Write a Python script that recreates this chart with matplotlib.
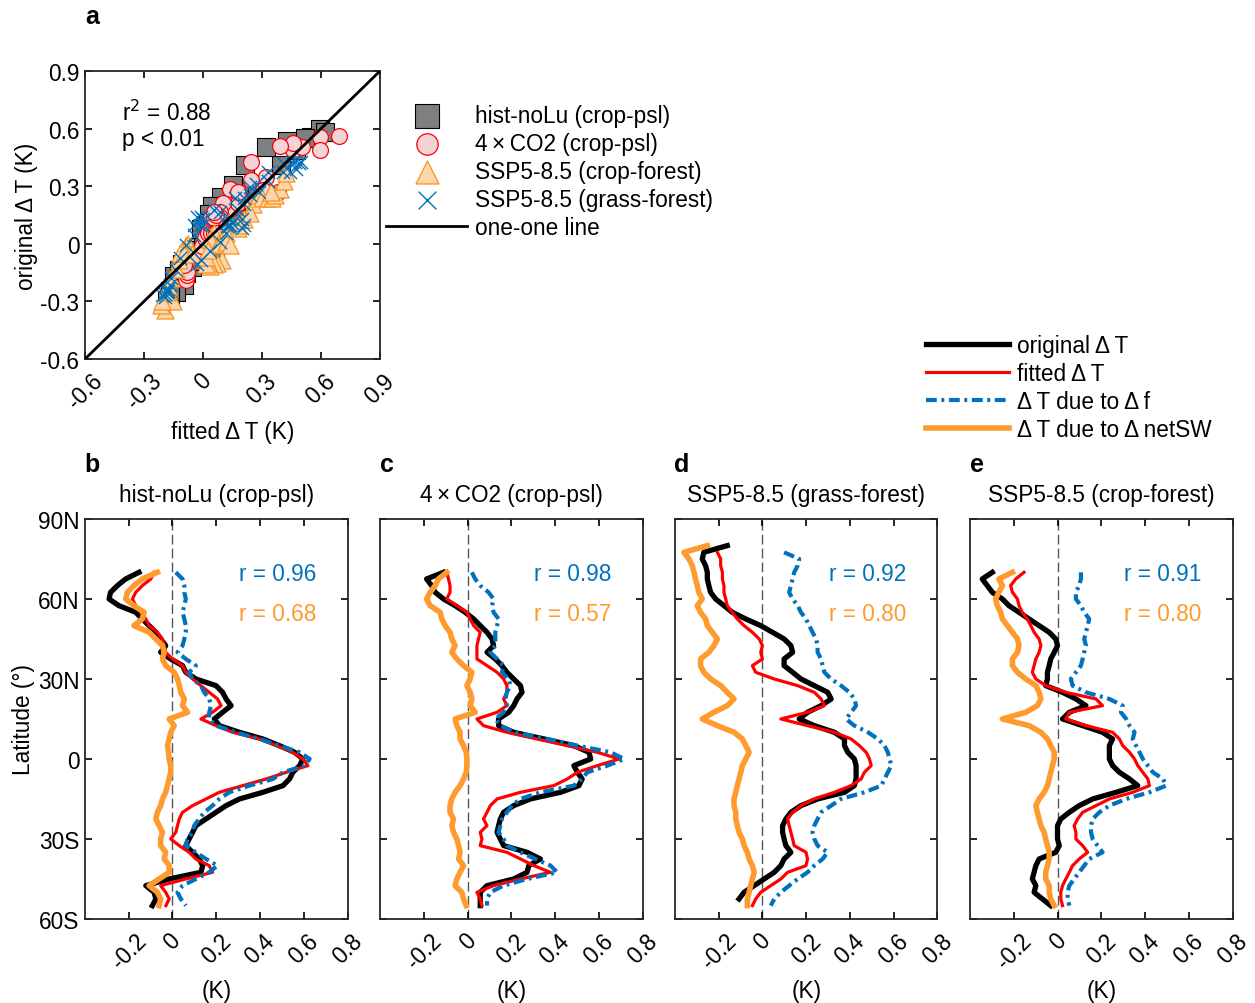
import numpy as np
import matplotlib
matplotlib.use("Agg")
import matplotlib.pyplot as plt

plt.rcParams['font.family'] = ['Liberation Sans', 'DejaVu Sans']
plt.rcParams['font.size'] = 16.3
plt.rcParams['axes.linewidth'] = 1.3
plt.rcParams['axes.edgecolor'] = '#262626'

nan = np.nan
# latitude grid (deg N), 80N -> 55S every 2.5 deg
lat = np.arange(80, -55.1, -2.5)

# ---- b: hist-noLu (crop-psl) ----
b_orig = [nan, nan, nan, nan,
          -0.153, -0.214, -0.252, -0.283, -0.290, -0.245, -0.168, -0.138, -0.107, -0.076,
          -0.054, -0.031, -0.054, -0.008, 0.046, 0.061, 0.107, 0.199, 0.229, 0.245,
          0.268, 0.229, 0.191, 0.214, 0.306, 0.413, 0.489, 0.558, 0.596, 0.581,
          0.550, 0.535, 0.505, 0.413, 0.306, 0.245, 0.199, 0.153, 0.107, 0.092,
          0.076, 0.061, 0.092, 0.122, 0.138, 0.130, -0.015, -0.122, -0.084, -0.076, -0.092]
b_fit = [nan, nan, nan, nan,
         -0.084, -0.099, -0.138, -0.168, -0.183, -0.168, -0.145, -0.122, -0.107, -0.069,
         -0.046, -0.038, -0.031, 0.000, 0.046, 0.061, 0.092, 0.130, 0.168, 0.206,
         0.222, 0.183, 0.130, 0.199, 0.275, 0.398, 0.474, 0.550, 0.596, 0.619,
         0.520, 0.428, 0.321, 0.214, 0.153, 0.092, 0.046, 0.031, 0.023, 0.015,
         -0.008, 0.031, 0.076, 0.107, 0.168, 0.183, 0.061, -0.054, -0.031, -0.015, -0.030]
b_df = [nan, nan, nan, nan,
        0.015, 0.046, 0.054, 0.054, 0.061, 0.054, 0.046, 0.054, 0.061, 0.061,
        0.054, 0.046, 0.023, 0.061, 0.107, 0.076, 0.092, 0.130, 0.145, 0.168,
        0.176, 0.168, 0.168, 0.199, 0.290, 0.398, 0.489, 0.581, 0.627, 0.604,
        0.505, 0.459, 0.352, 0.260, 0.214, 0.183, 0.145, 0.122, 0.099, 0.092,
        0.069, 0.061, 0.107, 0.153, 0.206, 0.168, 0.107, 0.046, 0.023, 0.038, 0.061]
b_sw = [nan, nan, nan, nan,
        -0.069, -0.138, -0.176, -0.206, -0.214, -0.176, -0.130, -0.138, -0.176, -0.107,
        -0.076, -0.046, -0.038, -0.046, -0.031, 0.008, 0.023, 0.031, 0.038, 0.054,
        0.046, 0.069, -0.015, 0.008, -0.008, -0.015, -0.023, -0.018, -0.015, -0.008,
        -0.008, -0.015, -0.023, -0.031, -0.046, -0.054, -0.069, -0.076, -0.061, -0.046,
        -0.054, -0.054, -0.031, -0.038, -0.015, -0.015, -0.061, -0.107, -0.069, -0.054, -0.061]

# ---- c: 4xCO2 (crop-psl) ----
c_orig = [nan, nan, nan, nan,
          -0.110, -0.187, -0.164, -0.148, -0.110, -0.057, -0.011, 0.028, 0.058, 0.089,
          0.112, 0.119, 0.089, 0.127, 0.157, 0.180, 0.211, 0.242, 0.249, 0.226,
          0.211, 0.188, 0.142, 0.142, 0.211, 0.349, 0.486, 0.555, 0.563, 0.486,
          0.502, 0.524, 0.509, 0.425, 0.287, 0.211, 0.165, 0.150, 0.142, 0.135,
          0.150, 0.165, 0.272, 0.333, 0.280, 0.272, 0.211, 0.089, 0.058, 0.058, 0.058]
c_fit = [nan, nan, nan, nan,
         -0.095, -0.087, -0.080, -0.080, -0.095, -0.049, -0.003, 0.012, 0.028, 0.058,
         0.050, 0.043, 0.043, 0.043, 0.089, 0.135, 0.165, 0.180, 0.180, 0.165,
         0.180, 0.135, 0.043, 0.073, 0.180, 0.318, 0.456, 0.593, 0.693, 0.593,
         0.502, 0.456, 0.394, 0.242, 0.135, 0.104, 0.089, 0.073, 0.089, 0.058,
         0.066, 0.058, 0.180, 0.242, 0.303, 0.379, 0.242, 0.119, 0.043, 0.058, 0.066]
c_df = [nan, nan, nan, nan,
        0.020, 0.035, 0.058, 0.096, 0.119, 0.112, 0.119, 0.142, 0.135, 0.127,
        0.127, 0.127, 0.104, 0.135, 0.165, 0.157, 0.188, 0.196, 0.180, 0.173,
        0.180, 0.165, 0.127, 0.150, 0.211, 0.364, 0.502, 0.654, 0.716, 0.639,
        0.547, 0.524, 0.486, 0.333, 0.242, 0.203, 0.180, 0.157, 0.150, 0.142,
        0.165, 0.180, 0.242, 0.310, 0.379, 0.410, 0.272, 0.165, 0.104, 0.089, 0.089]
c_sw = [nan, nan, nan, nan,
        -0.095, -0.133, -0.148, -0.171, -0.187, -0.171, -0.125, -0.118, -0.102, -0.080,
        -0.072, -0.057, -0.072, -0.049, -0.018, 0.020, 0.012, -0.003, 0.012, 0.020,
        0.012, 0.035, -0.057, -0.049, -0.034, -0.034, -0.018, -0.006, -0.003, -0.003,
        -0.006, -0.018, -0.034, -0.057, -0.072, -0.080, -0.080, -0.064, -0.072, -0.064,
        -0.049, -0.041, -0.034, -0.041, -0.018, -0.034, -0.049, -0.057, -0.026, -0.018, -0.006]

# ---- d: SSP5-8.5 (grass-forest) ----
d_orig = [-0.161, -0.268, -0.275, -0.260,
          -0.252, -0.252, -0.245, -0.237, -0.214, -0.176, -0.138, -0.076, -0.008, 0.046,
          0.099, 0.130, 0.138, 0.099, 0.099, 0.138, 0.176, 0.237, 0.298, 0.314,
          0.268, 0.206, 0.168, 0.237, 0.329, 0.375, 0.375, 0.390, 0.420, 0.428,
          0.428, 0.428, 0.420, 0.375, 0.252, 0.176, 0.130, 0.107, 0.092, 0.092,
          0.099, 0.107, 0.130, 0.099, 0.084, 0.054, 0.008, -0.038, -0.084, -0.107, nan]
d_fit = [nan, -0.206, -0.191, -0.191,
         -0.183, -0.183, -0.176, -0.176, -0.168, -0.161, -0.138, -0.115, -0.084, -0.046,
         -0.015, 0.000, -0.008, 0.000, -0.046, -0.031, 0.054, 0.161, 0.237, 0.268,
         0.283, 0.206, 0.084, 0.206, 0.329, 0.405, 0.443, 0.474, 0.489, 0.497,
         0.466, 0.451, 0.405, 0.329, 0.237, 0.176, 0.138, 0.115, 0.122, 0.130,
         0.138, 0.145, 0.199, 0.206, 0.199, 0.115, 0.084, 0.038, -0.008, -0.031, -0.046]
d_df = [nan, 0.099, 0.168, 0.161,
        0.145, 0.138, 0.130, 0.122, 0.138, 0.161, 0.176, 0.199, 0.214, 0.229,
        0.245, 0.252, 0.252, 0.268, 0.275, 0.283, 0.314, 0.359, 0.398, 0.420,
        0.428, 0.405, 0.382, 0.420, 0.482, 0.528, 0.558, 0.573, 0.581, 0.589,
        0.573, 0.558, 0.543, 0.466, 0.359, 0.314, 0.268, 0.252, 0.237, 0.229,
        0.237, 0.252, 0.298, 0.275, 0.237, 0.206, 0.161, 0.122, 0.084, 0.054, 0.038]
d_sw = [-0.252, -0.359, -0.336, -0.321,
        -0.313, -0.306, -0.298, -0.291, -0.275, -0.298, -0.283, -0.260, -0.252, -0.229,
        -0.206, -0.222, -0.245, -0.283, -0.283, -0.268, -0.237, -0.191, -0.161, -0.130,
        -0.161, -0.222, -0.275, -0.206, -0.130, -0.092, -0.076, -0.061, -0.076, -0.092,
        -0.099, -0.107, -0.115, -0.122, -0.130, -0.130, -0.122, -0.122, -0.115, -0.107,
        -0.092, -0.084, -0.069, -0.061, -0.046, -0.038, -0.046, -0.054, -0.061, -0.069, -0.069]

# ---- e: SSP5-8.5 (crop-forest) ----
e_orig = [nan, nan, nan, nan,
          -0.298, -0.344, -0.321, -0.298, -0.252, -0.222, -0.176, -0.130, -0.084, -0.038,
          -0.008, 0.000, -0.015, -0.031, -0.038, -0.046, -0.046, -0.054, 0.023, 0.084,
          0.130, 0.054, 0.023, 0.115, 0.206, 0.252, 0.237, 0.237, 0.237, 0.252,
          0.283, 0.329, 0.367, 0.268, 0.161, 0.099, 0.054, 0.015, 0.000, 0.000,
          0.000, 0.008, -0.008, -0.084, -0.099, -0.107, -0.115, -0.099, -0.107, -0.069, -0.031]
e_fit = [nan, nan, nan, nan,
         -0.153, -0.191, -0.214, -0.206, -0.183, -0.176, -0.161, -0.138, -0.122, -0.107,
         -0.084, -0.076, -0.084, -0.099, -0.107, -0.115, -0.099, -0.054, 0.038, 0.176,
         0.206, 0.054, 0.038, 0.130, 0.252, 0.283, 0.298, 0.329, 0.352, 0.367,
         0.390, 0.413, 0.420, 0.344, 0.237, 0.176, 0.115, 0.092, 0.076, 0.084,
         0.084, 0.115, 0.138, 0.099, 0.069, 0.054, 0.038, 0.023, 0.015, 0.015, 0.023]
e_df = [nan, nan, nan, nan,
        0.107, 0.107, 0.099, 0.084, 0.084, 0.107, 0.122, 0.145, 0.138, 0.130,
        0.122, 0.130, 0.122, 0.115, 0.107, 0.084, 0.061, 0.069, 0.130, 0.237,
        0.298, 0.290, 0.314, 0.329, 0.352, 0.344, 0.359, 0.375, 0.390, 0.413,
        0.436, 0.482, 0.497, 0.420, 0.314, 0.237, 0.191, 0.161, 0.153, 0.153,
        0.161, 0.183, 0.206, 0.145, 0.122, 0.099, 0.076, 0.054, 0.046, 0.046, 0.054]
e_sw = [nan, nan, nan, nan,
        -0.206, -0.268, -0.252, -0.268, -0.283, -0.275, -0.260, -0.252, -0.229, -0.206,
        -0.183, -0.176, -0.183, -0.206, -0.206, -0.183, -0.145, -0.099, -0.084, -0.076,
        -0.092, -0.145, -0.252, -0.130, -0.076, -0.046, -0.031, -0.015, -0.015, -0.023,
        -0.031, -0.038, -0.046, -0.061, -0.084, -0.099, -0.092, -0.084, -0.076, -0.061,
        -0.054, -0.046, -0.038, -0.038, -0.046, -0.054, -0.054, -0.038, -0.038, -0.031, -0.015]

titles = ['hist-noLu (crop-psl)', '4\u2009\u00d7\u2009CO2 (crop-psl)',
          'SSP5-8.5 (grass-forest)', 'SSP5-8.5 (crop-forest)']
letters = ['b', 'c', 'd', 'e']
r_df = ['0.96', '0.98', '0.92', '0.91']
r_sw = ['0.68', '0.57', '0.80', '0.80']

blue = '#0072BD'
orange = '#FF9A2E'

fig = plt.figure(figsize=(12.55, 10.04), dpi=100)

# ---------------- panel a ----------------
ax = fig.add_axes([0.0677, 0.6414, 0.2351, 0.2869])
ax.scatter(b_fit, b_orig, marker='s', s=160, facecolor='#7f7f7f', edgecolor='black',
           linewidth=0.8, label='hist-noLu (crop-psl)', zorder=2)
ax.scatter(c_fit, c_orig, marker='o', s=130, facecolor='#f2d4d7', edgecolor='red',
           linewidth=0.9, label='4\u2009\u00d7\u2009CO2 (crop-psl)', zorder=3)
ax.scatter(e_fit, e_orig, marker='^', s=150, facecolor='#fbd6ad', edgecolor='#f7931e',
           linewidth=0.9, label='SSP5-8.5 (crop-forest)', zorder=4)
ax.scatter(d_fit, d_orig, marker='x', s=90, color=blue, linewidth=1.0,
           label='SSP5-8.5 (grass-forest)', zorder=5)
ax.plot([-0.6, 0.9], [-0.6, 0.9], color='black', lw=2, label='one-one line', zorder=6)
ax.set_xlim(-0.6, 0.9)
ax.set_ylim(-0.6, 0.9)
ticks = [-0.6, -0.3, 0, 0.3, 0.6, 0.9]
ticklab = ['-0.6', '-0.3', '0', '0.3', '0.6', '0.9']
ax.set_xticks(ticks)
ax.set_xticklabels(ticklab, rotation=45, ha='center', va='top')
ax.set_yticks(ticks)
ax.set_yticklabels(ticklab)
ax.tick_params(direction='in', top=True, right=True, length=5, width=1.2, pad=4)
ax.tick_params(axis='x', pad=7)
ax.set_xlabel('fitted \u0394\u2009T (K)', labelpad=5)
ax.set_ylabel('original \u0394\u2009T (K)', labelpad=2)
ax.text(-0.41, 0.686, 'r$^2$ = 0.88', va='center', ha='left')
ax.text(-0.41, 0.546, 'p < 0.01', va='center', ha='left')
ax.legend(loc='upper left', bbox_to_anchor=(1.02, 0.885), frameon=False,
          borderpad=0, borderaxespad=0, handlelength=3.6, handletextpad=0.35,
          labelspacing=0.22, markerscale=1.35)
fig.text(0.0733, 0.983, 'a', fontsize=18, fontweight='bold', va='center', ha='center')

# ---------------- panels b-e ----------------
lefts = [0.0677, 0.3028, 0.5378, 0.7729]
prof = [(b_orig, b_fit, b_df, b_sw), (c_orig, c_fit, c_df, c_sw),
        (d_orig, d_fit, d_df, d_sw), (e_orig, e_fit, e_df, e_sw)]
handles = None
for i in range(4):
    a = fig.add_axes([lefts[i], 0.0837, 0.2092, 0.3984])
    o, f, df, sw = prof[i]
    a.axvline(0, color='#555555', lw=1.0, dashes=(7, 3), zorder=1)
    h1, = a.plot(o, lat, color='black', lw=3.8, label='original \u0394\u2009T', zorder=2)
    h2, = a.plot(f, lat, color='red', lw=2.3, label='fitted \u0394\u2009T', zorder=3)
    h3, = a.plot(df, lat, color=blue, lw=3.0, linestyle=(0, (2.6, 1.1, 0.7, 1.1)),
                 label='\u0394\u2009T due to \u0394\u2009f', zorder=4)
    h4, = a.plot(sw, lat, color=orange, lw=4.0, label='\u0394\u2009T due to \u0394\u2009netSW',
                 zorder=5)
    handles = [h1, h2, h3, h4]
    a.set_xlim(-0.4, 0.8)
    a.set_ylim(-60, 90)
    a.set_xticks([-0.2, 0, 0.2, 0.4, 0.6, 0.8])
    a.set_xticklabels(['-0.2', '0', '0.2', '0.4', '0.6', '0.8'], rotation=45,
                      ha='center', va='top')
    a.set_yticks([-60, -30, 0, 30, 60, 90])
    if i == 0:
        a.set_yticklabels(['60S', '30S', '0', '30N', '60N', '90N'])
        a.set_ylabel('Latitude (\u00b0)', labelpad=2)
    else:
        a.set_yticklabels([])
    a.tick_params(direction='in', top=True, right=True, length=5, width=1.2, pad=4)
    a.tick_params(axis='x', pad=7)
    a.set_xlabel('(K)', labelpad=5)
    a.set_title(titles[i], fontsize=16.3, pad=13)
    a.text(0.48, 69.5, 'r = ' + r_df[i], color=blue, ha='center', va='center')
    a.text(0.48, 54.5, 'r = ' + r_sw[i], color=orange, ha='center', va='center')
    fig.text(lefts[i] + 0.0056, 0.537, letters[i], fontsize=18, fontweight='bold',
             va='center', ha='center')

fig.legend(handles=handles, loc='upper left', bbox_to_anchor=(0.7375, 0.666), frameon=False,
           borderpad=0, borderaxespad=0, handlelength=3.7, handletextpad=0.35,
           labelspacing=0.22)

fig.savefig('out.png', dpi=100)
